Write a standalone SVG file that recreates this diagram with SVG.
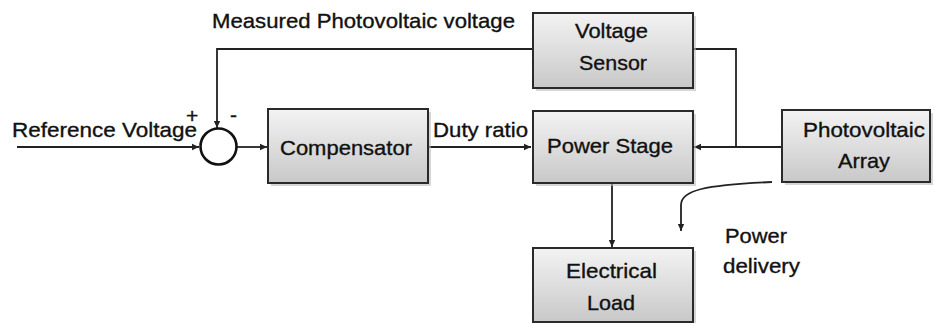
<svg xmlns="http://www.w3.org/2000/svg" width="934" height="323" viewBox="0 0 934 323">
<style>
.box{fill:url(#g);stroke:#2a2a2a;stroke-width:2}
.sh{fill:#bbb;opacity:0.6}
.t{font-family:"Liberation Sans",Arial,sans-serif;font-size:21px;fill:#111;stroke:#111;stroke-width:0.35}
.ln{fill:none;stroke:#222;stroke-width:1.8}
</style>
<defs>
<linearGradient id="g" x1="0" y1="0" x2="0" y2="1">
<stop offset="0" stop-color="#f3f3f3"/>
<stop offset="1" stop-color="#c8c8c8"/>
</linearGradient>
<marker id="a" markerWidth="8" markerHeight="8" refX="7" refY="4" orient="auto" markerUnits="userSpaceOnUse">
<path d="M0,0.8 L7,4 L0,7.2 Z" fill="#222"/>
</marker>
</defs>
<rect width="934" height="323" fill="#fff"/>
<g id="connectors">
<path class="ln" d="M17,147 H199" marker-end="url(#a)"/>
<path class="ln" d="M533,49 H217 V128" marker-end="url(#a)"/>
<path class="ln" d="M237,147 H267" marker-end="url(#a)"/>
<path class="ln" d="M428,147 H531" marker-end="url(#a)"/>
<path class="ln" d="M782,147 H694" marker-end="url(#a)"/>
<path class="ln" d="M693,49 H736 V147"/>
<path class="ln" d="M612,183 V247" marker-end="url(#a)"/>
<path class="ln" d="M772,182 C705,185 681,190 681,205 V231" marker-end="url(#a)"/>
</g>
<g id="sum">
<circle cx="218.5" cy="146.5" r="18" fill="#fff" stroke="#111" stroke-width="2.6"/>
<text class="t" x="186" y="123" font-size="18">+</text>
<text class="t" x="230" y="122" font-size="18">-</text>
</g>
<g id="labels">
<text class="t" x="12" y="137" textLength="185" lengthAdjust="spacingAndGlyphs">Reference Voltage</text>
<text class="t" x="212" y="28" font-size="18.5" textLength="303" lengthAdjust="spacingAndGlyphs">Measured Photovoltaic voltage</text>
<text class="t" x="433" y="137" textLength="95" lengthAdjust="spacingAndGlyphs">Duty ratio</text>
<text class="t" x="725" y="243" textLength="62" lengthAdjust="spacingAndGlyphs">Power</text>
<text class="t" x="723" y="273" textLength="77" lengthAdjust="spacingAndGlyphs">delivery</text>
</g>
<g id="compensator">
<rect class="sh" x="271" y="112" width="160" height="74"/>
<rect class="box" x="268" y="109" width="160" height="74"/>
<text class="t" x="280" y="155" textLength="132" lengthAdjust="spacingAndGlyphs">Compensator</text>
</g>
<g id="voltage-sensor">
<rect class="sh" x="536" y="16" width="160" height="75"/>
<rect class="box" x="533" y="13" width="160" height="75"/>
<text class="t" x="575" y="38" textLength="73" lengthAdjust="spacingAndGlyphs">Voltage</text>
<text class="t" x="579" y="70" textLength="68" lengthAdjust="spacingAndGlyphs">Sensor</text>
</g>
<g id="power-stage">
<rect class="sh" x="536" y="114" width="160" height="72"/>
<rect class="box" x="533" y="111" width="160" height="72"/>
<text class="t" x="547" y="153" textLength="126" lengthAdjust="spacingAndGlyphs">Power Stage</text>
</g>
<g id="pv-array">
<rect class="sh" x="785" y="113" width="148" height="72"/>
<rect class="box" x="782" y="110" width="148" height="72"/>
<text class="t" x="803" y="137" textLength="122" lengthAdjust="spacingAndGlyphs">Photovoltaic</text>
<text class="t" x="838" y="168" textLength="52" lengthAdjust="spacingAndGlyphs">Array</text>
</g>
<g id="electrical-load">
<rect class="sh" x="536" y="251" width="160" height="74"/>
<rect class="box" x="533" y="248" width="160" height="74"/>
<text class="t" x="566" y="278" textLength="91" lengthAdjust="spacingAndGlyphs">Electrical</text>
<text class="t" x="587" y="310" textLength="48" lengthAdjust="spacingAndGlyphs">Load</text>
</g>
</svg>
